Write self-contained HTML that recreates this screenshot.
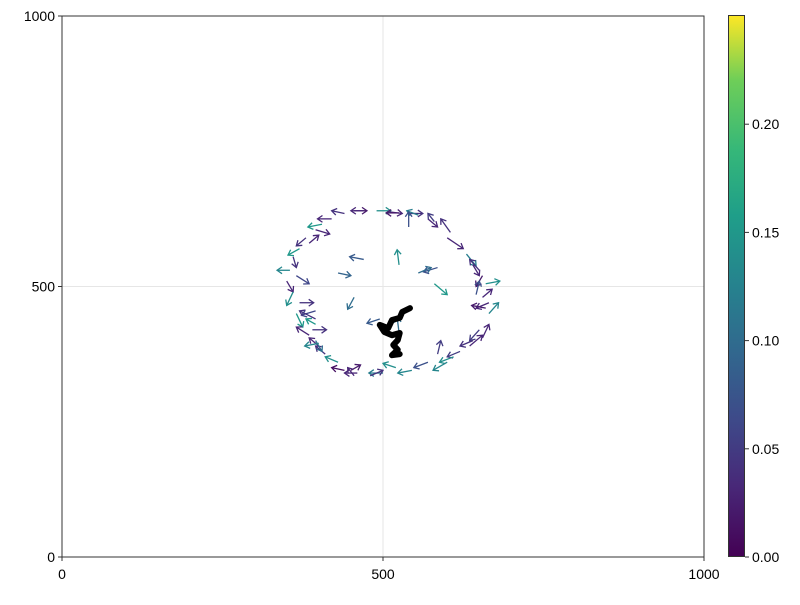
<!DOCTYPE html>
<html><head><meta charset="utf-8"><style>
body{margin:0;background:#fff}
svg text{font-family:"Liberation Sans",sans-serif;font-size:14px;fill:#000}
</style></head><body>
<svg id="c" width="800" height="600">
<defs><linearGradient id="vir" x1="0" y1="1" x2="0" y2="0">
<stop offset="0" stop-color="#440154"/><stop offset="0.13" stop-color="#482878"/><stop offset="0.25" stop-color="#3e4989"/><stop offset="0.38" stop-color="#31688e"/><stop offset="0.5" stop-color="#26828e"/><stop offset="0.63" stop-color="#1f9e89"/><stop offset="0.75" stop-color="#35b779"/><stop offset="0.88" stop-color="#6ece58"/><stop offset="1" stop-color="#fde725"/></linearGradient></defs>
<g id="grid"></g>
<g id="marks"></g>
<rect x="62" y="16" width="642" height="541" fill="none" stroke="#333" stroke-width="1"/>
<g id="axes"></g>
<rect x="728.5" y="15.5" width="16" height="541" fill="url(#vir)" stroke="#333" stroke-width="1"/>
<g id="cb"></g>
</svg>
<script>
const xTicks=[0,500,1000];
const yTicks=[0,500,1000];
const cbTicks=[0,0.05,0.10,0.15,0.20];
const cbMax=0.25;
const arrowX=[420,440,455,470,490,510,525,540,555,570,580,405,395,380,385,370,360,355,365,350,360,370,365,395,470,430,525,585,580,540,455,525,495,555,600,605,630,640,650,655,660,645,655,665,660,665,650,655,640,635,620,610,600,585,570,545,520,500,480,460,450,455,440,430,410,400,395,385,390,400,395,395];
const arrowY=[625,635,640,640,640,638,636,635,632,625,620,615,605,590,580,570,555,530,520,510,490,470,450,455,550,525,540,535,505,610,480,415,440,525,590,600,560,540,530,520,505,485,480,470,460,450,420,405,400,390,380,370,360,375,360,345,350,340,335,340,345,335,345,360,375,390,400,410,420,395,430,440];
const arrowU=[-22,-20,20,-20,22,20,-20,22,-18,15,-10,-22,22,-15,15,-18,5,-20,20,10,-10,22,10,-22,-22,20,-3,-22,20,0,-10,-3,-20,20,25,-15,15,10,-15,-10,22,5,15,-20,-22,15,-15,10,-20,20,-20,-22,-22,5,-22,-22,-20,-22,20,-20,15,-10,-20,-20,-15,-15,10,-20,22,-22,-15,-25];
const arrowV=[0,5,0,0,0,-3,0,0,8,-15,15,-5,-8,-15,15,-12,-20,0,-15,-20,-25,0,-25,-8,5,-5,28,-8,-20,28,-22,28,-8,10,-20,25,-22,-20,20,-20,5,25,15,-10,5,20,-20,25,-10,20,-10,-10,-15,25,-10,-5,8,0,10,0,10,15,5,10,15,15,-20,15,0,-5,10,15];
const arrowC=[0.03,0.04,0.02,0.03,0.14,0.03,0.02,0.04,0.12,0.03,0.05,0.15,0.03,0.04,0.03,0.15,0.04,0.13,0.06,0.03,0.14,0.04,0.15,0.06,0.08,0.09,0.14,0.07,0.15,0.07,0.1,0.1,0.08,0.1,0.03,0.04,0.12,0.03,0.04,0.02,0.14,0.07,0.03,0.03,0.02,0.13,0.05,0.03,0.04,0.03,0.05,0.14,0.13,0.05,0.07,0.13,0.14,0.12,0.04,0.03,0.02,0.03,0.01,0.14,0.04,0.03,0.1,0.03,0.04,0.13,0.15,0.04];
const pathX=[542,530,526,514,508,495,502,514,526,523,516,523,514,526];
const pathY=[460,453,442,438,423,429,416,410,414,401,392,383,373,375];
const X=v=>62+v*0.642, Y=v=>557-v*0.541, CB=v=>557-v/cbMax*541;
const NS='http://www.w3.org/2000/svg';
function mk(t,a,p){const e=document.createElementNS(NS,t);for(const k in a)e.setAttribute(k,a[k]);p.appendChild(e);return e;}
const vir=[[68,1,84],[72,40,120],[62,73,137],[49,104,142],[38,130,142],[31,158,137],[53,183,121],[110,206,88],[253,231,37]];
function col(v){let t=Math.max(0,Math.min(1,v/cbMax))*8,i=Math.min(7,Math.floor(t)),f=t-i;const a=vir[i],b=vir[i+1];return 'rgb('+a.map((c,k)=>Math.round(c+(b[k]-c)*f)).join(',')+')';}
const g=document.getElementById('grid'),m=document.getElementById('marks'),ax=document.getElementById('axes'),cb=document.getElementById('cb');
xTicks.forEach(v=>{const l=mk('line',{x1:X(v),x2:X(v),y1:16,y2:557,stroke:'#e6e6e6'},g);


mk('line',{x1:X(v),x2:X(v),y1:557,y2:561,stroke:'#333'},ax);
const t=mk('text',{x:X(v),y:579,'text-anchor':'middle'},ax);t.textContent=v;

});
yTicks.forEach(v=>{const l=mk('line',{y1:Y(v),y2:Y(v),x1:62,x2:704,stroke:'#e6e6e6'},g);


mk('line',{y1:Y(v),y2:Y(v),x1:58,x2:62,stroke:'#333'},ax);
const t=mk('text',{x:55,y:Y(v)+5,'text-anchor':'end'},ax);t.textContent=v;

});
cbTicks.forEach(v=>{mk('line',{x1:745,x2:749,y1:CB(v),y2:CB(v),stroke:'#333'},cb);
const t=mk('text',{x:752,y:CB(v)+5},cb);t.textContent=v.toFixed(2);

});
arrowX.forEach((x,i)=>{const x1=X(x),y1=Y(arrowY[i]),x2=X(x+arrowU[i]),y2=Y(arrowY[i]+arrowV[i]);
const c=col(arrowC[i]);const a=Math.atan2(y2-y1,x2-x1),h=6;
const gr=mk('g',{stroke:c,'stroke-width':1.3,fill:'none'},m);


mk('line',{x1,y1,x2,y2},gr);
mk('polyline',{points:(x2-h*Math.cos(a-0.6))+','+(y2-h*Math.sin(a-0.6))+' '+x2+','+y2+' '+(x2-h*Math.cos(a+0.6))+','+(y2-h*Math.sin(a+0.6))},gr);});
const p=mk('polyline',{points:pathX.map((x,i)=>X(x)+','+Y(pathY[i])).join(' '),fill:'none',stroke:'#000','stroke-width':6,'stroke-linejoin':'round','stroke-linecap':'round'},m);


</script>
</body></html>
